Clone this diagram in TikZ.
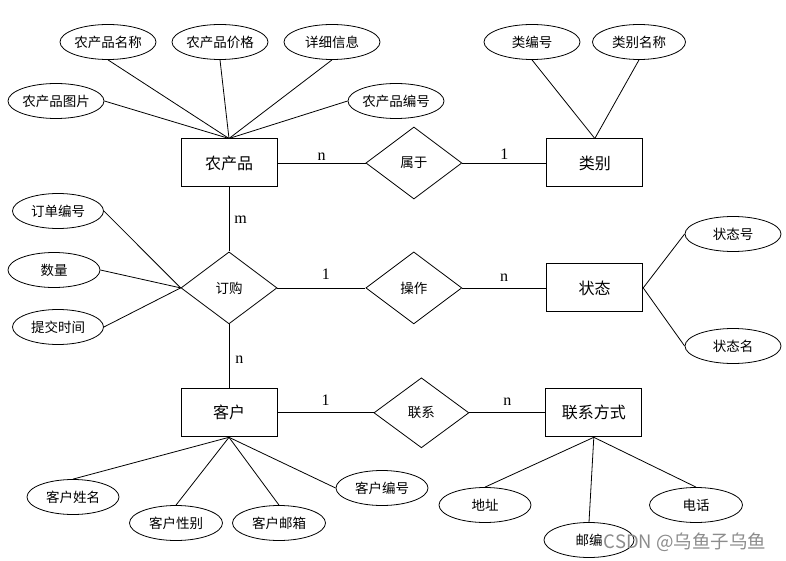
\documentclass[tikz,border=0pt]{standalone}
\usepackage{fontspec}
\setmainfont{Liberation Serif}
\newfontfamily\cjk{Noto Sans CJK SC}
\usetikzlibrary{shapes.geometric, positioning}

\begin{document}
\begin{tikzpicture}[
    x=1pt, y=-1pt,
    entitybox/.style={rectangle, draw=black, line width=1pt, minimum height=48pt, minimum width=96pt, inner sep=0pt, font=\cjk\fontsize{16}{18}\selectfont},
    relbox/.style={diamond, draw=black, line width=0.8pt, minimum height=72pt, minimum width=96pt, inner sep=0pt, font=\cjk\fontsize{13.5}{15}\selectfont},
    attrbox/.style={ellipse, draw=black, line width=0.8pt, minimum height=35pt, minimum width=96pt, inner sep=0pt, font=\cjk\fontsize{13.5}{15}\selectfont},
    card/.style={inner sep=0pt, font=\fontsize{16}{18}\selectfont},
    line width=0.8pt
]
\useasboundingbox (0,0) rectangle (786,561);

% Nodes
\node[entitybox]      (product)   at (229,163)                {农产品};
\node[relbox]         (belong)    [right=88pt of product]     {属于};
\node[entitybox]      (category)  [right=84pt of belong]      {类别};
\node[relbox]         (order)     [below=64pt of product]     {订购};
\node[relbox]         (operate)   [right=88pt of order]       {操作};
\node[entitybox]      (status)    [right=84pt of operate]     {状态};
\node[entitybox]      (customer)  [below=64pt of order]       {客户};
\node[relbox, minimum width=95pt, minimum height=70pt] (link) [right=96pt of customer] {联系};
\node[entitybox]      (contact)   [right=76pt of link]        {联系方式};

% Attributes
\node[attrbox]        (pname)     at (108,42)                 {农产品名称};
\node[attrbox]        (pprice)    at (220,42)                 {农产品价格};
\node[attrbox]        (pdetail)   at (332,42)                 {详细信息};
\node[attrbox]        (ppicture)  at (56,101)                 {农产品图片};
\node[attrbox]        (pid)       at (396,101)                {农产品编号};
\node[attrbox]        (catid)     at (532,42)                 {类编号};
\node[attrbox, minimum width=93pt] (catname) at (639,42)      {类别名称};
\node[attrbox]        (statusid)  at (733,234)                {状态号};
\node[attrbox]        (statusname) at (733,346)               {状态名};
\node[attrbox, minimum width=91pt] (orderid) at (58,211)      {订单编号};
\node[attrbox, minimum width=92pt] (qty)     at (54,270)      {数量};
\node[attrbox, minimum width=91pt] (otime)   at (58,327)      {提交时间};
\node[attrbox, minimum width=92pt] (cname)   at (73,497)      {客户姓名};
\node[attrbox, minimum width=93pt] (csex)    at (176,523)     {客户性别};
\node[attrbox, minimum width=93pt] (cmail)   at (279,523)     {客户邮箱};
\node[attrbox, minimum width=92pt] (cid)     at (382,488)     {客户编号};
\node[attrbox, minimum width=92pt] (addr)    at (485,505)     {地址};
\node[attrbox, minimum width=90pt] (zip)     at (589,540)     {邮编};
\node[attrbox, minimum width=93pt] (phone)   at (696,505)     {电话};

% Lines
\draw (pname.south) -- (product.north);
\draw (pprice.south) -- (product.north);
\draw (pdetail.south) -- (product.north);
\draw (ppicture.east) -- (product.north);
\draw (pid.west) -- (product.north);
\draw (catid.south) -- (category.north);
\draw (catname.south) -- (category.north);
\draw (status.east) -- (statusid.west);
\draw (status.east) -- (statusname.west);
\draw (orderid.east) -- (order.west);
\draw (qty.east) -- (order.west);
\draw (otime.east) -- (order.west);
\draw (customer.south) -- (cname.north);
\draw (customer.south) -- (csex.north);
\draw (customer.south) -- (cmail.north);
\draw (customer.south) -- (cid.west);
\draw (contact.south) -- (addr.north);
\draw (contact.south) -- (zip.north);
\draw (contact.south) -- (phone.north);

\draw (product) -- (belong) node [card, midway, above=2pt] {n};
\draw (belong) -- (category) node [card, midway, above=3pt] {1};
\draw (product) -- (order) node [card, midway, right=5pt] {m};
\draw (order) -- (operate) node [card, pos=0.55, above=8pt] {1};
\draw (operate) -- (status) node [card, midway, above=6pt] {n};
\draw (order) -- (customer) node [card, pos=0.55, right=6pt] {n};
\draw (customer) -- (link) node [card, midway, above=7pt] {1};
\draw (link) -- (contact) node [card, midway, above=7pt] {n};

\node[text=black!45, font=\cjk\fontsize{18.5}{20}\selectfont] (watermark) at (685,542) {CSDN @乌鱼子乌鱼};

\end{tikzpicture}
\end{document}
